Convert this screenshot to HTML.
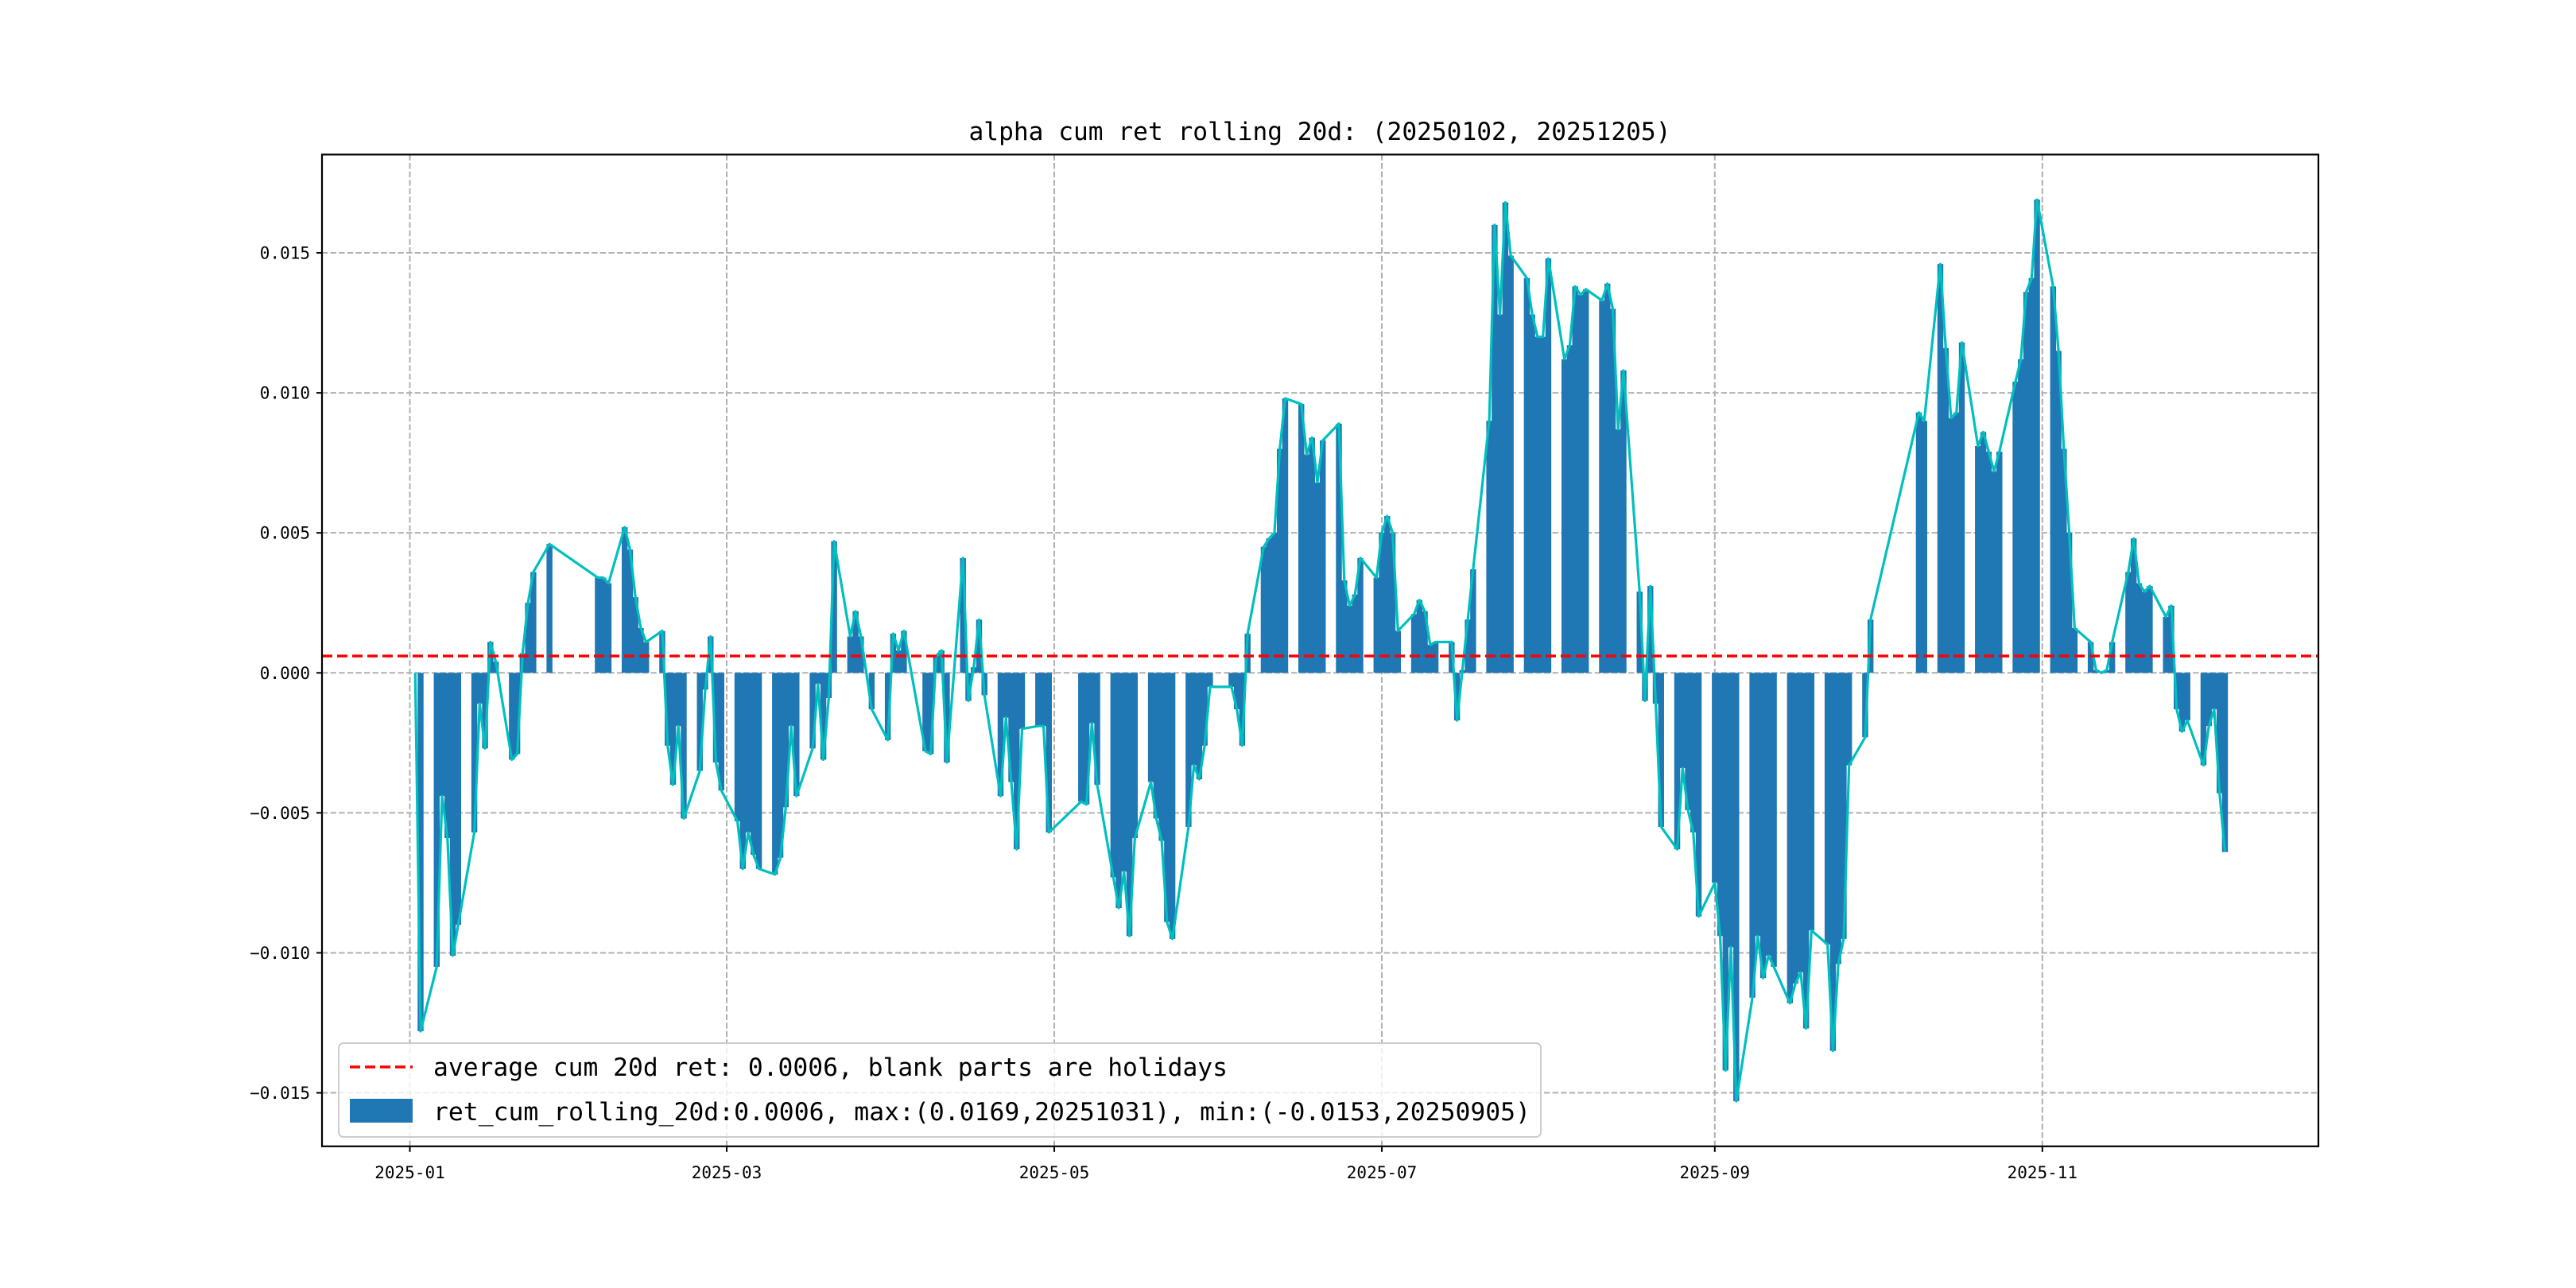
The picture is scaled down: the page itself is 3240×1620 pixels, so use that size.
<!DOCTYPE html>
<html><head><meta charset="utf-8">
<style>
html,body{margin:0;padding:0;background:#fff;}
svg{display:block;}
text{font-family:"DejaVu Sans Mono","Liberation Mono",monospace;fill:#000;}
</style></head>
<body>
<svg id="chart" width="3240" height="1620" viewBox="0 0 3240 1620" xmlns="http://www.w3.org/2000/svg">
  <rect x="0" y="0" width="3240" height="1620" fill="#fff"/>
  <text x="1660" y="176" font-size="31" text-anchor="middle" textLength="883" lengthAdjust="spacingAndGlyphs">alpha cum ret rolling 20d: (20250102, 20251205)</text>
  <g id="grid"></g>
  <g id="bars"></g>
  <g id="lines"></g>
  <rect x="405" y="194.4" width="2511" height="1247.4" fill="none" stroke="#000" stroke-width="2.2"/>
  <g id="ticks"></g>
  <g>
    <rect x="426" y="1312" width="1512" height="118" rx="6" fill="#fff" fill-opacity="0.8" stroke="#ccc" stroke-width="2"/>
    <line x1="440" y1="1342" x2="519" y2="1342" stroke="#ff0000" stroke-width="3.5" stroke-dasharray="13,6"/>
    <text x="545" y="1353" font-size="31.3" textLength="999" lengthAdjust="spacingAndGlyphs">average cum 20d ret: 0.0006, blank parts are holidays</text>
    <rect x="440" y="1382" width="79" height="30" fill="#1f77b4"/>
    <text x="545" y="1409" font-size="31.3" textLength="1380" lengthAdjust="spacingAndGlyphs">ret_cum_rolling_20d:0.0006, max:(0.0169,20251031), min:(-0.0153,20250905)</text>
  </g>
</svg>
<script>
const dates = ["01-02","01-03","01-06","01-07","01-08","01-09","01-10","01-13","01-14","01-15","01-16","01-17","01-20","01-21","01-22","01-23","01-24","01-27","02-05","02-06","02-07","02-10","02-11","02-12","02-13","02-14","02-17","02-18","02-19","02-20","02-21","02-24","02-25","02-26","02-27","02-28","03-03","03-04","03-05","03-06","03-07","03-10","03-11","03-12","03-13","03-14","03-17","03-18","03-19","03-20","03-21","03-24","03-25","03-26","03-27","03-28","03-31","04-01","04-02","04-03","04-07","04-08","04-09","04-10","04-11","04-14","04-15","04-16","04-17","04-18","04-21","04-22","04-23","04-24","04-25","04-28","04-29","04-30","05-06","05-07","05-08","05-09","05-12","05-13","05-14","05-15","05-16","05-19","05-20","05-21","05-22","05-23","05-26","05-27","05-28","05-29","05-30","06-03","06-04","06-05","06-06","06-09","06-10","06-11","06-12","06-13","06-16","06-17","06-18","06-19","06-20","06-23","06-24","06-25","06-26","06-27","06-30","07-01","07-02","07-03","07-04","07-07","07-08","07-09","07-10","07-11","07-14","07-15","07-16","07-17","07-18","07-21","07-22","07-23","07-24","07-25","07-28","07-29","07-30","07-31","08-01","08-04","08-05","08-06","08-07","08-08","08-11","08-12","08-13","08-14","08-15","08-18","08-19","08-20","08-21","08-22","08-25","08-26","08-27","08-28","08-29","09-01","09-02","09-03","09-04","09-05","09-08","09-09","09-10","09-11","09-12","09-15","09-16","09-17","09-18","09-19","09-22","09-23","09-24","09-25","09-26","09-29","09-30","10-09","10-10","10-13","10-14","10-15","10-16","10-17","10-20","10-21","10-22","10-23","10-24","10-27","10-28","10-29","10-30","10-31","11-03","11-04","11-05","11-06","11-07","11-10","11-11","11-12","11-13","11-14","11-17","11-18","11-19","11-20","11-21","11-24","11-25","11-26","11-27","11-28","12-01","12-02","12-03","12-04","12-05"];
const values = [0,-0.0128,-0.0105,-0.0044,-0.0059,-0.0101,-0.0090,-0.0057,-0.0011,-0.0027,0.0011,0.0004,-0.0031,-0.0029,0.0007,0.0025,0.0036,0.0046,0.0034,0.0034,0.0032,0.0052,0.0044,0.0027,0.0016,0.0011,0.0015,-0.0026,-0.0040,-0.0019,-0.0052,-0.0035,-0.0006,0.0013,-0.0032,-0.0042,-0.0053,-0.0070,-0.0057,-0.0065,-0.0070,-0.0072,-0.0066,-0.0048,-0.0019,-0.0044,-0.0027,-0.0004,-0.0031,-0.0009,0.0047,0.0013,0.0022,0.0013,0.0000,-0.0013,-0.0024,0.0014,0.0008,0.0015,-0.0028,-0.0029,0.0006,0.0008,-0.0032,0.0041,-0.0010,0.0002,0.0019,-0.0008,-0.0044,-0.0016,-0.0039,-0.0063,-0.0020,-0.0019,-0.0019,-0.0057,-0.0046,-0.0047,-0.0018,-0.0040,-0.0073,-0.0084,-0.0071,-0.0094,-0.0059,-0.0039,-0.0052,-0.0060,-0.0089,-0.0095,-0.0055,-0.0033,-0.0038,-0.0026,-0.0005,-0.0005,-0.0013,-0.0026,0.0014,0.0045,0.0048,0.0050,0.0080,0.0098,0.0096,0.0078,0.0084,0.0068,0.0083,0.0089,0.0033,0.0024,0.0028,0.0041,0.0034,0.0050,0.0056,0.0050,0.0015,0.0021,0.0026,0.0022,0.0010,0.0011,0.0011,-0.0017,0.0001,0.0019,0.0037,0.0090,0.0160,0.0128,0.0168,0.0149,0.0141,0.0128,0.0120,0.0120,0.0148,0.0112,0.0117,0.0138,0.0135,0.0137,0.0133,0.0139,0.0130,0.0087,0.0108,0.0029,-0.0010,0.0031,-0.0011,-0.0055,-0.0063,-0.0034,-0.0049,-0.0057,-0.0087,-0.0075,-0.0094,-0.0142,-0.0098,-0.0153,-0.0116,-0.0094,-0.0109,-0.0101,-0.0105,-0.0118,-0.0111,-0.0107,-0.0127,-0.0092,-0.0097,-0.0135,-0.0104,-0.0095,-0.0033,-0.0023,0.0019,0.0093,0.0090,0.0146,0.0116,0.0091,0.0093,0.0118,0.0081,0.0086,0.0079,0.0072,0.0079,0.0104,0.0112,0.0136,0.0141,0.0169,0.0138,0.0115,0.0080,0.0050,0.0016,0.0011,0.0001,0.0000,0.0001,0.0011,0.0036,0.0048,0.0032,0.0029,0.0031,0.0020,0.0024,-0.0013,-0.0021,-0.0017,-0.0033,-0.0019,-0.0013,-0.0043,-0.0064];
const meanValue = 0.0006;
const yTicks = [-0.015,-0.010,-0.005,0.000,0.005,0.010,0.015];
const yTickLabels = ["\u22120.015","\u22120.010","\u22120.005","0.000","0.005","0.010","0.015"];
const xTickDates = ["01-01","03-01","05-01","07-01","09-01","11-01"];
const xTickLabels = ["2025-01","2025-03","2025-05","2025-07","2025-09","2025-11"];

const NS = "http://www.w3.org/2000/svg";
const PL = 405, PR = 2916, PT = 194.4, PB = 1441.8;
const XMIN = -16.36, XMAX = 355.4, YMIN = -0.01691, YMAX = 0.01851;
function dayOf(md){ const [m,d]=md.split("-").map(Number); return Math.round((Date.UTC(2025,m-1,d)-Date.UTC(2025,0,1))/86400000); }
function xScale(day){ return PL + (day - XMIN)/(XMAX - XMIN)*(PR-PL); }
function yScale(v){ return PB - (v - YMIN)/(YMAX - YMIN)*(PB-PT); }
function mk(tag, attrs, parent){ const e=document.createElementNS(NS,tag); for(const k in attrs) e.setAttribute(k,attrs[k]); parent.appendChild(e); return e; }

const grid = document.getElementById("grid");
const ticks = document.getElementById("ticks");
yTicks.forEach((t,i)=>{
  const y = yScale(t);
  const g = mk("line",{x1:PL,x2:PR,y1:y,y2:y,stroke:"#b0b0b0","stroke-width":2,"stroke-dasharray":"7.4,3.2"},grid);
  
  
  const tk = mk("line",{x1:PL-7,x2:PL,y1:y,y2:y,stroke:"#000","stroke-width":2},ticks);
  
  
  const lb = mk("text",{x:PL-15,y:y+7.5,"font-size":21,"text-anchor":"end"},ticks);
  lb.textContent = yTickLabels[i];
  
  
});
xTickDates.forEach((md,i)=>{
  const x = xScale(dayOf(md));
  const g = mk("line",{x1:x,x2:x,y1:PT,y2:PB,stroke:"#b0b0b0","stroke-width":2,"stroke-dasharray":"7.4,3.2"},grid);
  
  
  const tk = mk("line",{x1:x,x2:x,y1:PB,y2:PB+7,stroke:"#000","stroke-width":2},ticks);
  
  
  const lb = mk("text",{x:x,y:PB+40,"font-size":21,"text-anchor":"middle"},ticks);
  lb.textContent = xTickLabels[i];
  
  
});

const bars = document.getElementById("bars");
const y0 = yScale(0);
const dayW = (PR-PL)/(XMAX-XMIN);
const pts = [];
dates.forEach((md,i)=>{
  const d = dayOf(md), v = values[i];
  const x = xScale(d), y = yScale(v);
  pts.push(x.toFixed(2)+","+y.toFixed(2));
  const b = mk("rect",{x:(x-dayW*0.55).toFixed(2),y:Math.min(y,y0).toFixed(2),width:(dayW*1.1).toFixed(2),height:Math.abs(y-y0).toFixed(2),fill:"#1f77b4"},bars);
  
  
});

const lines = document.getElementById("lines");
const pl = mk("polyline",{points:pts.join(" "),fill:"none",stroke:"#00bfbf","stroke-width":3.2,"stroke-linejoin":"round"},lines);


const ym = yScale(meanValue);
const ml = mk("line",{x1:PL,x2:PR,y1:ym,y2:ym,stroke:"#ff0000","stroke-width":3.5,"stroke-dasharray":"13,6"},lines);


</script>
</body></html>
